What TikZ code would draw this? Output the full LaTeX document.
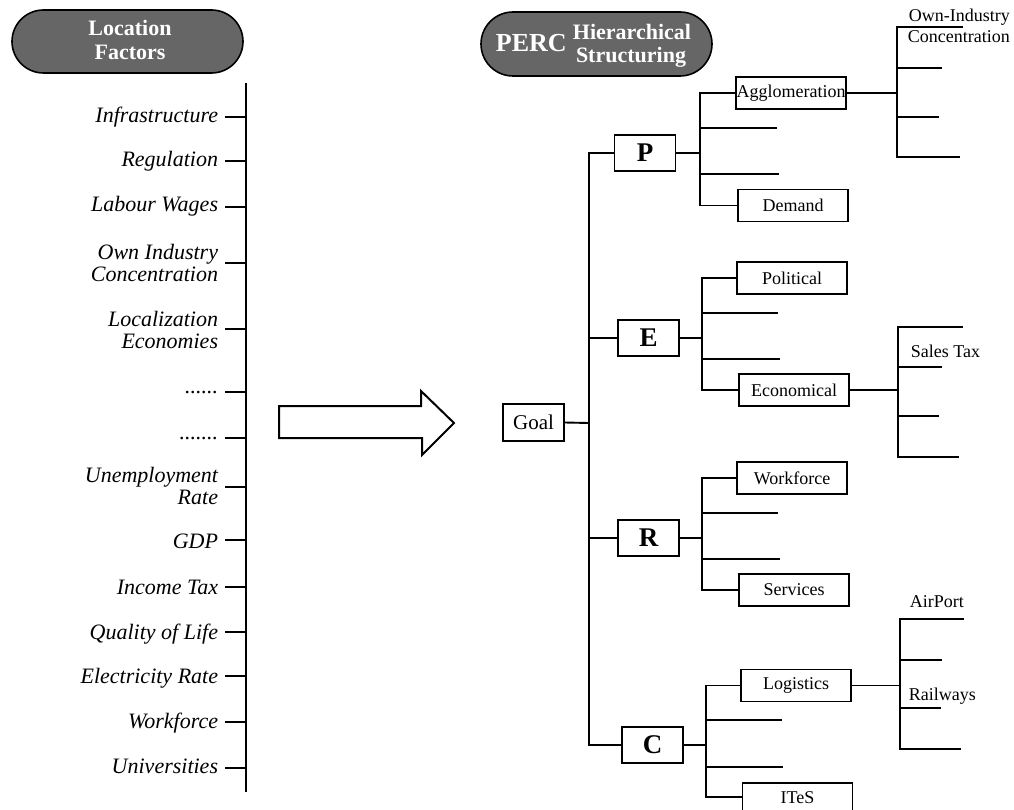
\documentclass[tikz,border=0pt]{standalone}
\usepackage{fontspec}
\setmainfont{Liberation Serif}
\usetikzlibrary{shapes.misc}
\definecolor{pillgray}{RGB}{102,102,102}
\begin{document}
\begin{tikzpicture}[x=1pt,y=-1pt,
  line width=1.9pt,
  pill/.style={draw=black, line width=1.6pt, fill=pillgray, rounded rectangle,
    minimum width=231pt, minimum height=63pt, inner sep=0pt},
  pilltext/.style={text=white, font=\fontsize{22}{23}\selectfont\bfseries,
    inner sep=0pt, anchor=base},
  factor/.style={font=\fontsize{22}{22}\selectfont\itshape, anchor=base east, inner sep=0pt},
  catbox/.style={draw, line width=1.8pt, minimum width=61pt, minimum height=36pt,
    inner sep=0pt, font=\fontsize{27}{27}\selectfont\bfseries},
  subbox/.style={draw, line width=1.8pt, minimum width=110pt, minimum height=32pt,
    inner sep=0pt, font=\fontsize{18}{18}\selectfont},
  leaf/.style={font=\fontsize{18}{18}\selectfont, anchor=base west, inner sep=0pt},
]
\useasboundingbox (0,0) rectangle (1014,810);
\clip (0,0) rectangle (1014,810);

% ---------- left column: location factors ----------
\node[pill] (lfpill) at (127.5,41.5) {};
\node[pilltext] (lf1) at (130,36) {Location};
\node[pilltext] (lf2) at (130,60) {Factors};

\coordinate (axtop) at (246,83);
\coordinate (axbot) at (246,792);
\draw (axtop) -- (axbot);

\node[factor] (f1)  at (219,123) {Infrastructure};
\node[factor] (f2)  at (219,167) {Regulation};
\node[factor] (f3)  at (219,212) {Labour Wages};
\node[factor] (f4a) at (219,259) {Own Industry};
\node[factor] (f4b) at (219,281) {Concentration};
\node[factor] (f5a) at (219,326) {Localization};
\node[factor] (f5b) at (219,348) {Economies};
\node[factor] (f6)  at (219,393) {......};
\node[factor] (f7)  at (219,439) {.......};
\node[factor] (f8a) at (219,482) {Unemployment};
\node[factor] (f8b) at (219,504) {Rate};
\node[factor] (f9)  at (219,548) {GDP};
\node[factor] (f10) at (219,594) {Income Tax};
\node[factor] (f11) at (219,639) {Quality of Life};
\node[factor] (f12) at (219,683) {Electricity Rate};
\node[factor] (f13) at (219,728) {Workforce};
\node[factor] (f14) at (219,773) {Universities};

\foreach \y in {117,161,207,263,329,392,438,487,540,587,632,676,722,768}
  \draw (axtop |- 0,\y) -- ++(-21,0);

% ---------- transformation arrow ----------
\draw[line width=2pt, line join=miter]
  (279,406) -- (421,406) -- (421,391) -- (454,423) -- (422,455) -- (422,438)
  -- (279,438) -- cycle;

% ---------- right column: PERC hierarchy ----------
\node[pill, minimum height=64pt] (perc) at (596.5,44) {};
\node[text=white, font=\fontsize{26}{26}\selectfont\bfseries, anchor=base west, inner sep=0pt]
  (percw) at (495,52) {PERC};
\node[pilltext] (hs1) at (632,40) {Hierarchical};
\node[pilltext] (hs2) at (631,63) {Structuring};

% goal and criteria
\node[draw, line width=1.8pt, minimum width=61pt, minimum height=37pt, inner sep=0pt,
  font=\fontsize{21}{21}\selectfont] (goal) at (533.5,422.5) {Goal};
\node[catbox] (P) at (645,153) {P};
\node[catbox] (E) at (648.5,338) {E};
\node[catbox] (R) at (648.5,538) {R};
\node[catbox] (C) at (652.5,745) {C};

\coordinate (trunk) at (589,423);
\draw (goal.east) -- (trunk);
\draw (P.west) -| (trunk) |- (C.west);
\draw (E.west) -- (E.west -| trunk);
\draw (R.west) -- (R.west -| trunk);

% P branch
\node[subbox] (agg) at (791,93) {Agglomeration};
\node[subbox] (dem) at (793,205.5) {Demand};
\coordinate (pj) at (700,153);
\coordinate (pb1) at (777,128);
\coordinate (pb2) at (779,174);
\draw (P.east) -- (pj);
\draw (agg.west) -| (pj) |- (dem.west);
\draw (pj |- pb1) -- (pb1);
\draw (pj |- pb2) -- (pb2);

\coordinate (aj) at (897,93);
\coordinate (a1) at (963,27);
\coordinate (a2) at (942,68);
\coordinate (a3) at (939,117);
\coordinate (a4) at (960,157);
\draw (agg.east) -- (aj);
\draw (a1) -- (a1 -| aj) -- (a4 -| aj) -- (a4);
\draw (a2 -| aj) -- (a2);
\draw (a3 -| aj) -- (a3);
\node[leaf] (oic1) at (908,22) {Own-Industry};
\node[leaf] (oic2) at (907,43) {Concentration};

% E branch
\node[subbox] (pol) at (792,278) {Political};
\node[subbox] (eco) at (794,390) {Economical};
\coordinate (ej) at (702,338);
\coordinate (eb1) at (778,313);
\coordinate (eb2) at (780,359);
\draw (E.east) -- (ej);
\draw (pol.west) -| (ej) |- (eco.west);
\draw (ej |- eb1) -- (eb1);
\draw (ej |- eb2) -- (eb2);

\coordinate (xj) at (898,390);
\coordinate (x1) at (963,327);
\coordinate (x2) at (942,367);
\coordinate (x3) at (939,416);
\coordinate (x4) at (959,457);
\draw (eco.east) -- (xj);
\draw (x1) -- (x1 -| xj) -- (x4 -| xj) -- (x4);
\draw (x2 -| xj) -- (x2);
\draw (x3 -| xj) -- (x3);
\node[leaf] (stax) at (910,357) {Sales Tax};

% R branch
\node[subbox] (wf) at (792,478) {Workforce};
\node[subbox] (srv) at (794,590) {Services};
\coordinate (rj) at (702,538);
\coordinate (rb1) at (778,513);
\coordinate (rb2) at (780,559);
\draw (R.east) -- (rj);
\draw (wf.west) -| (rj) |- (srv.west);
\draw (rj |- rb1) -- (rb1);
\draw (rj |- rb2) -- (rb2);

% C branch
\node[subbox] (log) at (796,685.5) {Logistics};
\node[subbox, minimum height=48pt, anchor=north] (ites) at (797.5,782) {};
\node[font=\fontsize{18}{18}\selectfont, anchor=base, inner sep=0pt] (itest) at (797.5,803) {ITeS};
\coordinate (cj) at (706,745);
\coordinate (cb1) at (782,720);
\coordinate (cb2) at (783,767);
\coordinate (cl) at (743,797);
\draw (C.east) -- (cj);
\draw (log.west) -| (cj) |- (cl);
\draw (cj |- cb1) -- (cb1);
\draw (cj |- cb2) -- (cb2);

\coordinate (lj) at (900,685.5);
\coordinate (l1) at (964,619);
\coordinate (l2) at (942,660);
\coordinate (l3) at (941,708);
\coordinate (l4) at (961,749);
\draw (log.east) -- (lj);
\draw (l1) -- (l1 -| lj) -- (l4 -| lj) -- (l4);
\draw (l2 -| lj) -- (l2);
\draw (l3 -| lj) -- (l3);
\node[leaf] (air) at (909,607) {AirPort};
\node[leaf] (rail) at (908,700) {Railways};
\end{tikzpicture}
\end{document}
